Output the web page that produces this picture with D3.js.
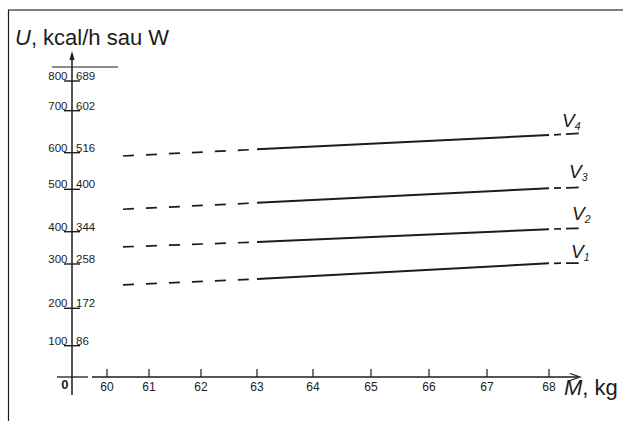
<!DOCTYPE html>
<html><head><meta charset="utf-8">
<script src="https://cdn.jsdelivr.net/npm/d3@7"></script>
<style>body{margin:0;background:#fff}svg{display:block;font-family:"Liberation Sans",Arial,sans-serif}</style>
</head><body><svg id="c" width="623" height="421"></svg>
<script>
// Data
const seriesNames = ["V4", "V3", "V2", "V1"];
const massPoints = [60.38, 63, 68, 68.48];            // kg: dashed start, solid start, solid end, dashed end
const v4 = [591, 608, 642, 646];
const v3 = [453, 468, 503, 505];
const v2 = [353, 368, 406, 408];
const v1 = [253, 266, 302, 303];
const xTicks = [60, 61, 62, 63, 64, 65, 66, 67, 68];
const yTicksW = [100, 200, 300, 400, 500, 600, 700, 800];
const yTicksKcal = ["86", "172", "258", "344", "400", "516", "602", "689"];

const svg = d3.select("#c");
const ink = "#1c1c1c";

// hand-drawn (irregular) axes, reproduced as piecewise-linear scales
const x = d3.scaleLinear().domain([60, 61, 62, 63, 64, 65, 66, 67, 68])
  .range([107, 149, 201, 257, 313, 371, 429, 487, 549]);
const y = d3.scaleLinear().domain([0, 100, 200, 300, 400, 500, 600, 700, 800])
  .range([377, 345.7, 308.3, 264, 231.7, 189.3, 152.7, 110.7, 81]);
const x0 = 72;   // position of the vertical axis (origin)

// frame
svg.append("line").attr("x1", 8).attr("x2", 623).attr("y1", 10).attr("y2", 10)
  .attr("stroke", "#555").attr("stroke-width", 1.6);
svg.append("line").attr("x1", 8.5).attr("x2", 8.5).attr("y1", 10).attr("y2", 421)
  .attr("stroke", ink).attr("stroke-width", 1.2);

// title
const t = svg.append("text").attr("x", 15).attr("y", 45).attr("font-size", 22).attr("fill", ink);
t.append("tspan").attr("font-style", "italic").text("U");
t.append("tspan").text(", kcal/h sau W");

// vertical axis
svg.append("line").attr("x1", x0).attr("x2", x0).attr("y1", 395).attr("y2", 54)
  .attr("stroke", ink).attr("stroke-width", 1.5);
svg.append("path").attr("d", `M${x0-2.5},${60} L${x0},${51} L${x0+2.5},${60} Z`).attr("fill", ink);
svg.append("line").attr("x1", 52).attr("x2", 118).attr("y1", 67).attr("y2", 67)
  .attr("stroke", ink).attr("stroke-width", 1);

const yt = svg.append("g").selectAll("g").data(yTicksW).join("g")
  .attr("transform", d => `translate(0,${y(d)})`);
yt.append("line").attr("x1", 64).attr("x2", 80).attr("stroke", ink).attr("stroke-width", 1.4);
yt.append("text").attr("x", 67.5).attr("y", -1).attr("text-anchor", "end")
  .attr("font-size", 11.5).attr("fill", ink).text(d => d);
yt.append("text").attr("x", 76).attr("y", -1)
  .attr("font-size", 11.5).attr("fill", ink).text((d, i) => yTicksKcal[i]);

// horizontal axis (with a break)
svg.append("line").attr("x1", 57).attr("x2", 88).attr("y1", 377).attr("y2", 377)
  .attr("stroke", ink).attr("stroke-width", 1.3);
svg.append("line").attr("x1", 92).attr("x2", 578).attr("y1", 377).attr("y2", 377)
  .attr("stroke", ink).attr("stroke-width", 1.3);
svg.append("path").attr("d", "M570,373.5 L580,377 L570,380.5").attr("fill", "none")
  .attr("stroke", ink).attr("stroke-width", 1.2);
svg.append("text").attr("x", 68.5).attr("y", 389).attr("text-anchor", "end")
  .attr("font-size", 13).attr("font-weight", "bold").attr("fill", ink).text("0");

const xt = svg.append("g").selectAll("g").data(xTicks).join("g")
  .attr("transform", d => `translate(${x(d)},377)`);
xt.append("line").attr("y1", 0).attr("y2", -8).attr("stroke", ink).attr("stroke-width", 1.2);
xt.append("text").attr("y", 13.5).attr("text-anchor", "middle")
  .attr("font-size", 12).attr("fill", ink).text(d => d);

const xl = svg.append("text").attr("x", 564).attr("y", 395).attr("font-size", 22).attr("fill", ink);
xl.append("tspan").attr("font-style", "italic").text("M");
xl.append("tspan").text(", kg");

// series lines
const all = [v4, v3, v2, v1];
const line = d3.line().x(d => x(d[0])).y(d => y(d[1]));
all.forEach(vals => {
  const pts = massPoints.map((m, i) => [m, vals[i]]);
  svg.append("path").attr("d", line(pts.slice(0, 2))).attr("fill", "none")
    .attr("stroke", ink).attr("stroke-width", 1.7).attr("stroke-dasharray", "11,12");
  svg.append("path").attr("d", line(pts.slice(1, 3))).attr("fill", "none")
    .attr("stroke", ink).attr("stroke-width", 2);
  svg.append("path").attr("d", line(pts.slice(2, 4))).attr("fill", "none")
    .attr("stroke", ink).attr("stroke-width", 1.7).attr("stroke-dasharray", "0,5,7,5,9");
});

// series labels
const labelPos = [[562, 127], [569, 178], [572, 220], [571, 258]];
seriesNames.forEach((n, i) => {
  const lt = svg.append("text").attr("x", labelPos[i][0]).attr("y", labelPos[i][1])
    .attr("font-size", 19).attr("font-style", "italic").attr("fill", ink);
  lt.append("tspan").text(n[0]);
  lt.append("tspan").attr("font-size", 10.5).attr("dy", 3).text(n.slice(1));
});
</script></body></html>
